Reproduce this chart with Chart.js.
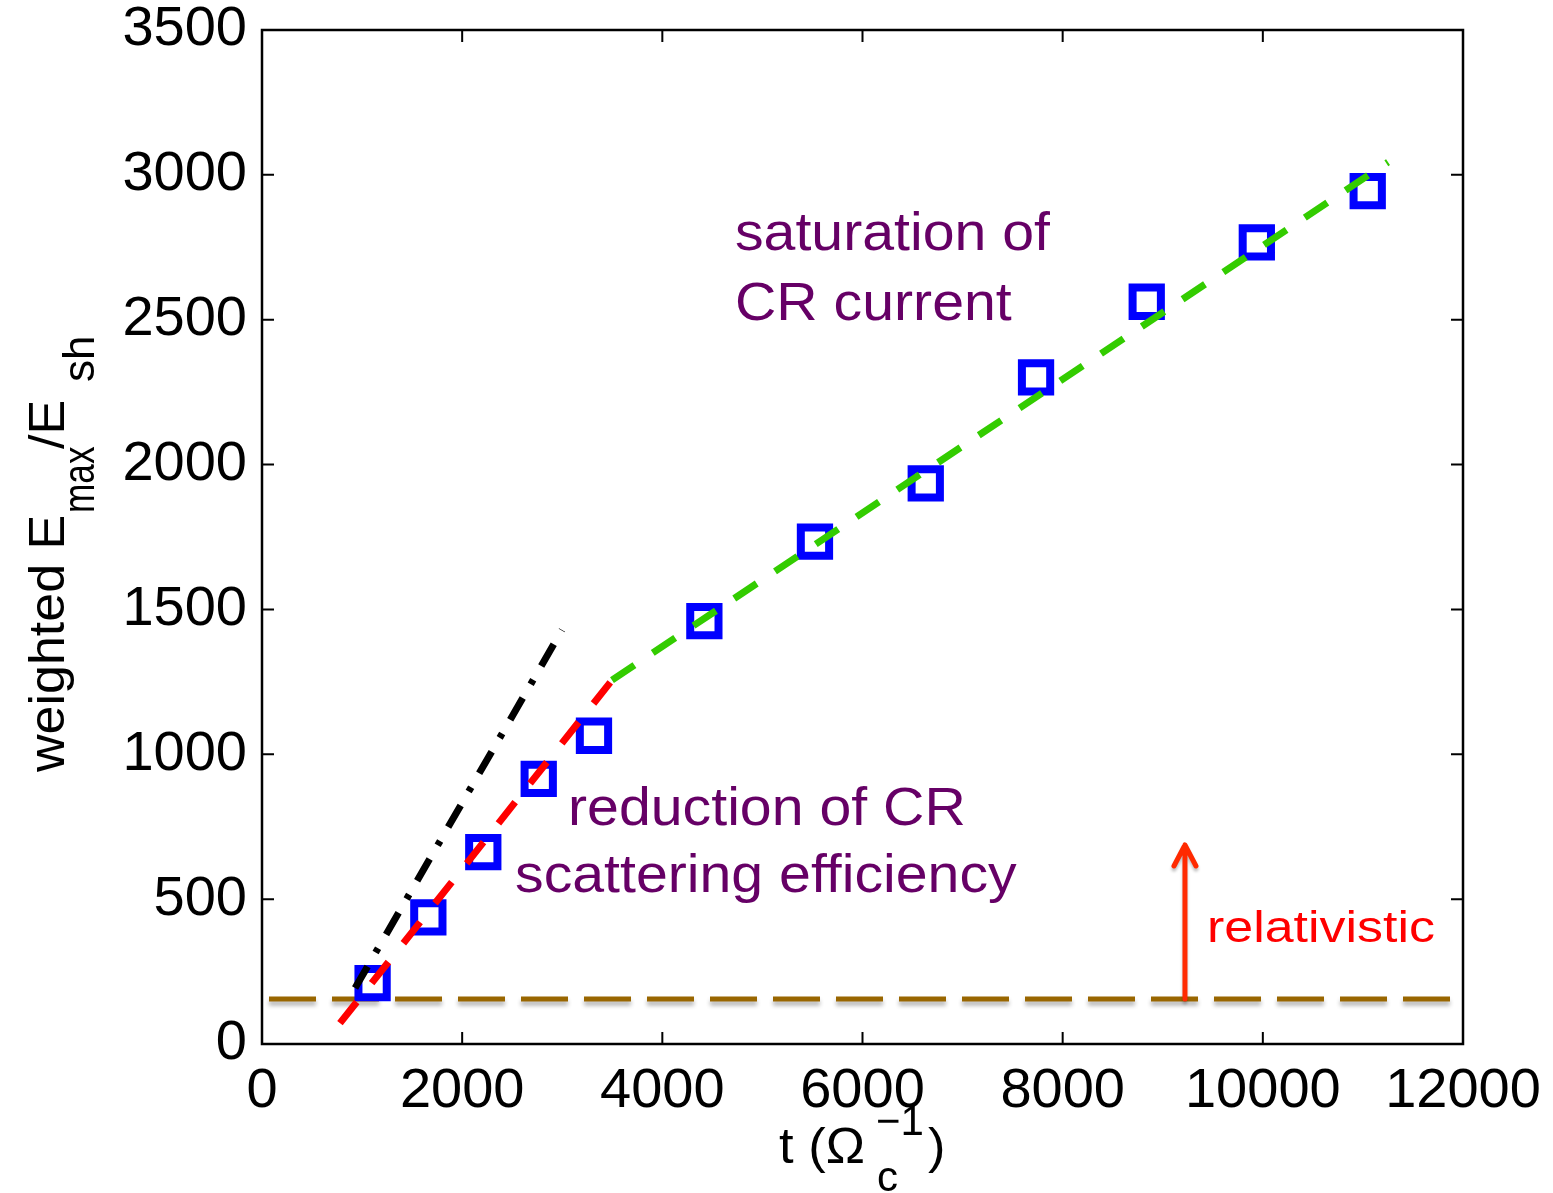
<!DOCTYPE html>
<html>
<head>
<meta charset="utf-8">
<script src="https://cdn.jsdelivr.net/npm/chart.js@4.4.1/dist/chart.umd.min.js"></script>
<style>
  html, body { margin: 0; padding: 0; background: #fff; }
  #wrap { width: 1553px; height: 1193px; }
</style>
</head>
<body>
<div id="wrap"><canvas id="chart" width="1553" height="1193"></canvas></div>
<script>
/* =========================
   DATA
========================= */
// simulation points (blue squares)
const tSim = [1105, 1662, 2211, 2765, 3317, 4420, 5525, 6632, 7734, 8840, 9940, 11048];
const eSim = [210, 437, 662, 915, 1064, 1460, 1734, 1935, 2301, 2562, 2767, 2944];

// black dash-dot guide
const tBlack = [930, 2998];
const eBlack = [193, 1429];

// red dashed fit (early phase)
const tRed = [779, 3497];
const eRed = [72, 1256];

// green dashed fit (late phase)
const tGreen = [3497, 11251];
const eGreen = [1256, 3044];

// relativistic threshold
const tThresh = [0, 12000];
const eThresh = [155, 155];

// arrow
const arrowT = 9222;
const arrowE = [155, 687];

const xTicks = [0, 2000, 4000, 6000, 8000, 10000, 12000];
const yTicks = [0, 500, 1000, 1500, 2000, 2500, 3000, 3500];

const FONT = "'Liberation Sans', Arial, Helvetica, sans-serif";
const PURPLE = "#660066";

function pts(xs, ys) {
  return xs.map((x, i) => ({ x: x, y: ys[i] }));
}

/* =========================
   PLUGINS
========================= */
function stretchedText(ctx, txt, x, y, size, sx) {
  ctx.save();
  ctx.translate(x, y);
  ctx.scale(sx, 1);
  ctx.font = size + "px " + FONT;
  ctx.fillText(txt, 0, 0);
  ctx.restore();
}

const shadowPlugin = {
  id: "shadow",
  beforeDatasetDraw(chart, args) {
    if (chart.data.datasets[args.index].label !== "threshold") return;
    const ctx = chart.ctx;
    ctx.save();
    ctx.shadowColor = "rgba(0,0,0,0.3)";
    ctx.shadowBlur = 4;
    ctx.shadowOffsetY = 4;
  },
  afterDatasetDraw(chart, args) {
    if (chart.data.datasets[args.index].label !== "threshold") return;
    chart.ctx.restore();
  },
};

const notesPlugin = {
  id: "notes",
  afterDatasetsDraw(chart) {
    const ctx = chart.ctx;
    const xs = chart.scales.x;
    const ys = chart.scales.y;

    // arrow
    const ax = xs.getPixelForValue(arrowT);
    const a0 = ys.getPixelForValue(arrowE[0]);
    const a1 = ys.getPixelForValue(arrowE[1]);
    ctx.save();
    ctx.strokeStyle = "#ff2a00";
    ctx.lineWidth = 5;
    ctx.lineCap = "round";
    ctx.lineJoin = "round";
    ctx.shadowColor = "rgba(0,0,0,0.25)";
    ctx.shadowBlur = 3;
    ctx.shadowOffsetY = 3;
    ctx.beginPath();
    ctx.moveTo(ax, a0);
    ctx.lineTo(ax, a1);
    ctx.moveTo(ax - 11, a1 + 21);
    ctx.lineTo(ax, a1);
    ctx.lineTo(ax + 11, a1 + 21);
    ctx.stroke();
    ctx.restore();

    // annotations
    ctx.save();
    ctx.textBaseline = "alphabetic";
    ctx.textAlign = "left";
    ctx.fillStyle = PURPLE;
    const notes = [
      ["saturation of", 4726, 2741],
      ["CR current", 4726, 2499],
      ["reduction of CR", 3058, 756],
      ["scattering efficiency", 2528, 525],
    ];
    notes.forEach((n) => {
      stretchedText(ctx, n[0], xs.getPixelForValue(n[1]), ys.getPixelForValue(n[2]), 53, 1.08);
    });
    ctx.fillStyle = "#ff0000";
    stretchedText(ctx, "relativistic", xs.getPixelForValue(9442), ys.getPixelForValue(352), 44, 1.18);
    ctx.restore();
  },
  afterDraw(chart) {
    const ctx = chart.ctx;
    const a = chart.chartArea;
    const xs = chart.scales.x;
    const ys = chart.scales.y;

    // box + inward ticks
    ctx.save();
    ctx.strokeStyle = "#000";
    ctx.lineWidth = 2.5;
    ctx.strokeRect(a.left, a.top, a.right - a.left, a.bottom - a.top);
    ctx.lineWidth = 2;
    ctx.beginPath();
    xTicks.forEach((v) => {
      const p = xs.getPixelForValue(v);
      ctx.moveTo(p, a.bottom);
      ctx.lineTo(p, a.bottom - 12);
      ctx.moveTo(p, a.top);
      ctx.lineTo(p, a.top + 12);
    });
    yTicks.forEach((v) => {
      const p = ys.getPixelForValue(v);
      ctx.moveTo(a.left, p);
      ctx.lineTo(a.left + 12, p);
      ctx.moveTo(a.right, p);
      ctx.lineTo(a.right - 12, p);
    });
    ctx.stroke();
    ctx.restore();

    // y title: weighted E_max/E_sh
    ctx.save();
    ctx.fillStyle = "#000";
    ctx.textBaseline = "alphabetic";
    ctx.translate(64, 0);
    ctx.rotate(-Math.PI / 2);
    // local x = -screenY
    stretchedText(ctx, "weighted E", -772, 0, 50, 1.04);
    stretchedText(ctx, "max", -513, 30, 44, 0.8);
    stretchedText(ctx, "/E", -449, 0, 50, 1.04);
    stretchedText(ctx, "sh", -382, 30, 44, 1.0);
    ctx.restore();

    // x title: t (Omega_c^-1)
    ctx.save();
    ctx.fillStyle = "#000";
    ctx.textBaseline = "alphabetic";
    stretchedText(ctx, "t (\u03A9", 779, 1163, 50, 1.05);
    stretchedText(ctx, "\u22121", 876, 1135, 42, 1.0);
    stretchedText(ctx, "c", 877, 1191, 42, 1.0);
    stretchedText(ctx, ")", 928, 1163, 50, 1.05);
    ctx.restore();
  },
};

/* =========================
   CHART
========================= */
new Chart(document.getElementById("chart"), {
  type: "scatter",
  data: {
    datasets: [
      {
        label: "threshold",
        data: pts(tThresh, eThresh),
        showLine: true,
        borderColor: "#996600",
        borderWidth: 5,
        borderDash: [47, 16],
        borderDashOffset: 56,
        pointRadius: 0,
        order: 5,
      },
      {
        label: "simulation",
        data: pts(tSim, eSim),
        showLine: false,
        pointStyle: "rect",
        pointRadius: 20,
        pointBorderWidth: 8,
        pointBorderColor: "#0000ff",
        pointBackgroundColor: "rgba(255,255,255,0)",
        order: 4,
      },
      {
        label: "black",
        data: pts(tBlack, eBlack),
        showLine: true,
        borderColor: "#000",
        borderWidth: 7,
        borderDash: [25, 16, 5, 16],
        pointRadius: 0,
        order: 1,
      },
      {
        label: "red",
        data: pts(tRed, eRed),
        showLine: true,
        borderColor: "#ff0000",
        borderWidth: 7,
        borderDash: [27, 24],
        pointRadius: 0,
        order: 1,
      },
      {
        label: "green",
        data: pts(tGreen, eGreen),
        showLine: true,
        borderColor: "#33cc00",
        borderWidth: 7,
        borderDash: [27, 22],
        pointRadius: 0,
        order: 1,
      },
    ],
  },
  options: {
    responsive: false,
    animation: false,
    devicePixelRatio: 1,
    layout: { padding: { top: 30, right: 90, left: 0, bottom: 0 } },
    plugins: {
      legend: { display: false },
      tooltip: { enabled: false },
    },
    scales: {
      x: {
        type: "linear",
        min: 0,
        max: 12000,
        afterBuildTicks: (s) => { s.ticks = xTicks.map((v) => ({ value: v })); },
        afterFit: (s) => {
          s.height = 149;
          s.paddingLeft = 0;
          s.paddingRight = 0;
        },
        grid: { display: false, drawTicks: false },
        border: { display: false },
        ticks: {
          color: "#000",
          padding: 14,
          maxRotation: 0,
          font: { family: FONT, size: 56 },
          callback: (v) => String(v),
        },
      },
      y: {
        type: "linear",
        min: 0,
        max: 3500,
        afterBuildTicks: (s) => { s.ticks = yTicks.map((v) => ({ value: v })); },
        afterFit: (s) => {
          s.width = 262;
          s.paddingTop = 0;
          s.paddingBottom = 0;
        },
        grid: { display: false, drawTicks: false },
        border: { display: false },
        ticks: {
          color: "#000",
          padding: 15,
          font: { family: FONT, size: 56 },
          callback: (v) => String(v),
        },
      },
    },
  },
  plugins: [shadowPlugin, notesPlugin],
});
</script>
</body>
</html>
